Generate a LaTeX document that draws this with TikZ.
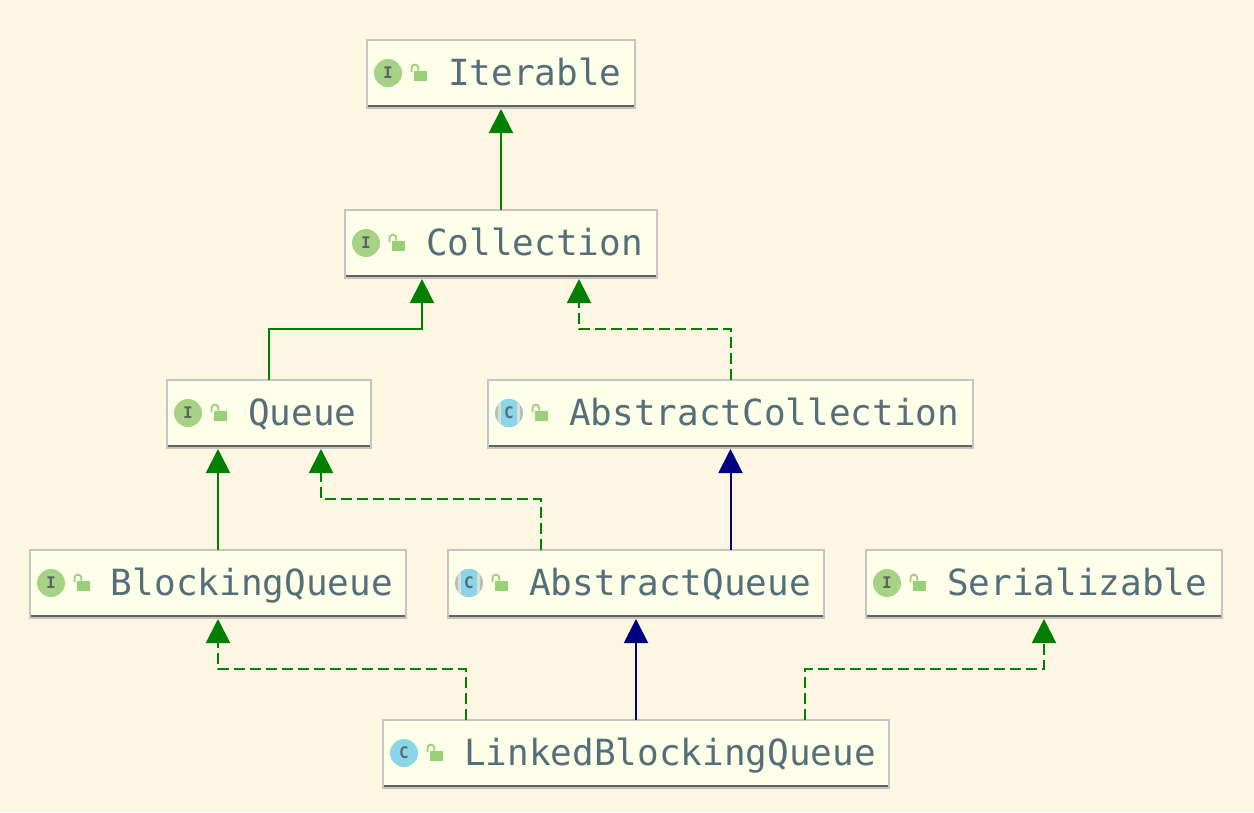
\documentclass[tikz,border=0pt]{standalone}
\usepackage{fontspec}
\setmonofont{DejaVu Sans Mono}
\usetikzlibrary{arrows.meta,calc}
\definecolor{pagebg}{HTML}{FDF6E3}
\definecolor{boxfill}{HTML}{FEFFE8}
\definecolor{boxedge}{HTML}{C4C4C4}
\definecolor{boxshade}{HTML}{616161}
\definecolor{labeltext}{HTML}{546E7A}
\definecolor{ifacegreen}{HTML}{A5D285}
\definecolor{classblue}{HTML}{8AD5E8}
\definecolor{absgrey}{HTML}{B4BEC0}
\definecolor{lockgreen}{HTML}{97D077}
\definecolor{inhgreen}{HTML}{008000}
\definecolor{inhnavy}{HTML}{000080}
\tikzset{
  umlbox/.style={draw=boxedge,fill=boxfill,line width=2pt,inner sep=0pt,outer sep=0pt,minimum height=67.5pt,
    text=labeltext,font=\fontsize{36}{36}\selectfont\ttfamily,text height=25pt,text depth=2pt},
  iconletter/.style={inner sep=0pt,font=\fontsize{16}{16}\selectfont\ttfamily\bfseries},
  solidinh/.style={draw=inhgreen,line width=2pt,-{Triangle[length=24pt,width=24pt]}},
  dashinh/.style={solidinh,dash pattern=on 11pt off 5pt},
  extendinh/.style={draw=inhnavy,line width=2pt,-{Triangle[length=24pt,width=24pt]}}
}
% name, left, right, top, kind(I/C/A), text
\newcommand{\umlclass}[6]{%
  \pgfmathsetmacro{\bw}{#3-#2}%
  \node[umlbox,minimum width=\bw pt,anchor=north west] (#1) at (#2,#4)
    {\makebox[\bw pt][l]{\hspace{81pt}#6}};
  \draw[boxshade,line width=2.2pt] (#2+1,#4+66) -- (#3-1,#4+66);
  \if#5I\def\ltrcol{boxshade}\def\ltr{I}\else\def\ltrcol{labeltext}\def\ltr{C}\fi
  \if#5I
    \fill[ifacegreen] (#2+21,#4+33) circle (14pt);
  \else\if#5C
    \fill[classblue] (#2+21,#4+33) circle (14pt);
  \else
    \fill[absgrey] (#2+21,#4+33) circle (14pt);
    \begin{scope}
      \clip (#2+21,#4+33) circle (14pt);
      \fill[boxfill!50!absgrey] (#2+10,#4+18) rectangle (#2+13,#4+48);
      \fill[boxfill!50!absgrey] (#2+29,#4+18) rectangle (#2+32,#4+48);
      \fill[classblue] (#2+13,#4+18) rectangle (#2+29,#4+48);
    \end{scope}
  \fi\fi
  \node[iconletter,text=\ltrcol] (#1icon) at (#2+21,#4+33) {\ltr};
  \fill[lockgreen] (#2+47,#4+30.5) rectangle (#2+59.5,#4+41);
  \draw[lockgreen,line width=1.8pt] (#2+44.5,#4+32) -- (#2+44.5,#4+28) arc[start angle=180,end angle=0,radius=3.4pt] -- (#2+51.3,#4+30.5);
}
\begin{document}
\begin{tikzpicture}[x=1pt,y=-1pt]
\useasboundingbox (0,0) rectangle (1254,812);
\fill[pagebg] (0,0) rectangle (1254,812);
\umlclass{iterable}{367}{635}{40}{I}{Iterable}
\umlclass{collection}{345}{657}{210}{I}{Collection}
\umlclass{queue}{167}{371}{380}{I}{Queue}
\umlclass{abscoll}{488}{973}{380}{A}{AbstractCollection}
\umlclass{blocking}{30}{406}{550}{I}{BlockingQueue}
\umlclass{absqueue}{448}{824}{550}{A}{AbstractQueue}
\umlclass{serial}{866}{1222}{550}{I}{Serializable}
\umlclass{linked}{383}{889}{720}{C}{LinkedBlockingQueue}
% connectors
\draw[solidinh] (collection.north) -- ([yshift=-1.5pt]iterable.south);
\draw[solidinh] (queue.north) |- (422,329) -- ([xshift=-79pt,yshift=-1.5pt]collection.south);
\draw[dashinh] (abscoll.north) |- (579,329) -- ([xshift=78pt,yshift=-1.5pt]collection.south);
\draw[solidinh] (blocking.north) -- ([xshift=-51pt,yshift=-1.5pt]queue.south);
\draw[dashinh] ([xshift=-95pt]absqueue.north) |- (321,499) -- ([xshift=52pt,yshift=-1.5pt]queue.south);
\draw[extendinh] ([xshift=94.5pt]absqueue.north) -- ([yshift=-1.5pt]abscoll.south);
\draw[dashinh] ([xshift=-170pt]linked.north) |- (218,669) -- ([yshift=-1.5pt]blocking.south);
\draw[extendinh] (linked.north) -- ([yshift=-1.5pt]absqueue.south);
\draw[dashinh] ([xshift=169pt]linked.north) |- (1044,669) -- ([yshift=-1.5pt]serial.south);
\end{tikzpicture}
\end{document}
